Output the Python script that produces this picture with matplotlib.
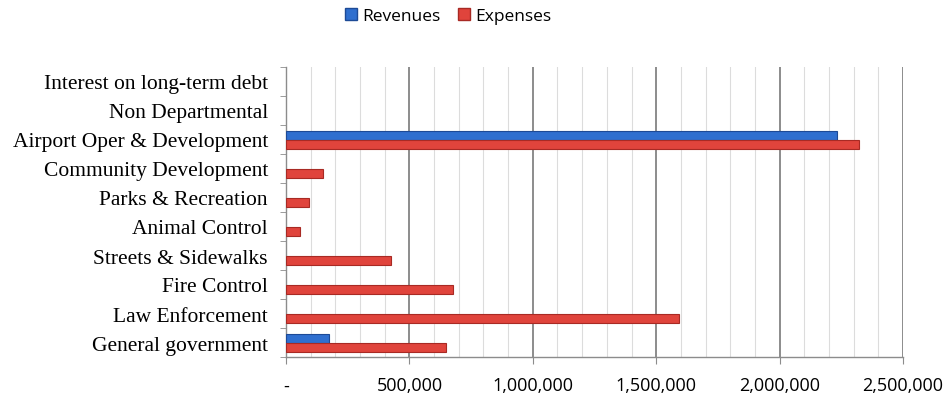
import matplotlib
matplotlib.use("Agg")
import matplotlib.pyplot as plt
from matplotlib.ticker import MultipleLocator, FuncFormatter, FixedLocator
from matplotlib.patches import Patch

categories = ["General government", "Law Enforcement", "Fire Control",
              "Streets & Sidewalks", "Animal Control", "Parks & Recreation",
              "Community Development", "Airport Oper & Development",
              "Non Departmental", "Interest on long-term debt"]
revenues = [176000, 0, 0, 0, 0, 0, 0, 2232000, 0, 0]
expenses = [649000, 1594000, 675000, 425000, 57000, 95000, 150000, 2322000, 0, 0]

blue = "#2F6FCF"
blue_edge = "#1D4A96"
red = "#E0443C"
red_edge = "#A82A24"

fig = plt.figure(figsize=(9.45, 4.02), dpi=100)
ax = fig.add_axes([286/945, 1-358/402, (903-286)/945, (358-68)/402])

ys = list(range(len(categories)))
ax.barh([y + 0.15 for y in ys], revenues, height=0.3, color=blue,
        edgecolor=blue_edge, linewidth=[0.8 if v else 0 for v in revenues], zorder=3)
ax.barh([y - 0.17 for y in ys], expenses, height=0.3, color=red,
        edgecolor=red_edge, linewidth=[0.8 if v else 0 for v in expenses], zorder=3)

ax.set_xlim(0, 2500000)
ax.set_ylim(-0.5, len(categories) - 0.5)

ax.xaxis.set_major_locator(MultipleLocator(500000))
ax.xaxis.set_minor_locator(MultipleLocator(100000))
ax.xaxis.set_major_formatter(FuncFormatter(lambda v, p: "-" if v == 0 else f"{int(v):,}"))
ax.grid(which="major", axis="x", color="#6e6e6e", linewidth=1.1, zorder=0)
ax.grid(which="minor", axis="x", color="#dcdcdc", linewidth=0.8, zorder=0)

ax.set_yticks(ys)
ax.set_yticklabels(categories, fontfamily="Liberation Serif", fontsize=15.5)
ax.yaxis.set_minor_locator(FixedLocator([y - 0.5 for y in range(len(categories) + 1)]))
ax.tick_params(axis="y", which="major", length=0, pad=13)
ax.tick_params(axis="y", which="minor", length=4, color="#8c8c8c", direction="out")
ax.tick_params(axis="x", which="major", length=5, color="#8c8c8c", pad=9,
               labelsize=13)
ax.tick_params(axis="x", which="minor", length=0)
for lab in ax.get_xticklabels():
    lab.set_fontfamily("Open Sans")

for s in ["top", "right"]:
    ax.spines[s].set_visible(False)
for s in ["left", "bottom"]:
    ax.spines[s].set_color("#8c8c8c")
    ax.spines[s].set_linewidth(1.0)

handles = [Patch(facecolor=blue, edgecolor=blue_edge, label="Revenues"),
           Patch(facecolor=red, edgecolor=red_edge, label="Expenses")]
fig.legend(handles=handles, loc="center", bbox_to_anchor=(448/945, 1-17/402),
           ncol=2, frameon=False, handlelength=0.7, handleheight=0.7,
           handletextpad=0.3, columnspacing=1.0,
           prop={"family": "Open Sans", "size": 12.5})

fig.savefig("out.png", dpi=100)
